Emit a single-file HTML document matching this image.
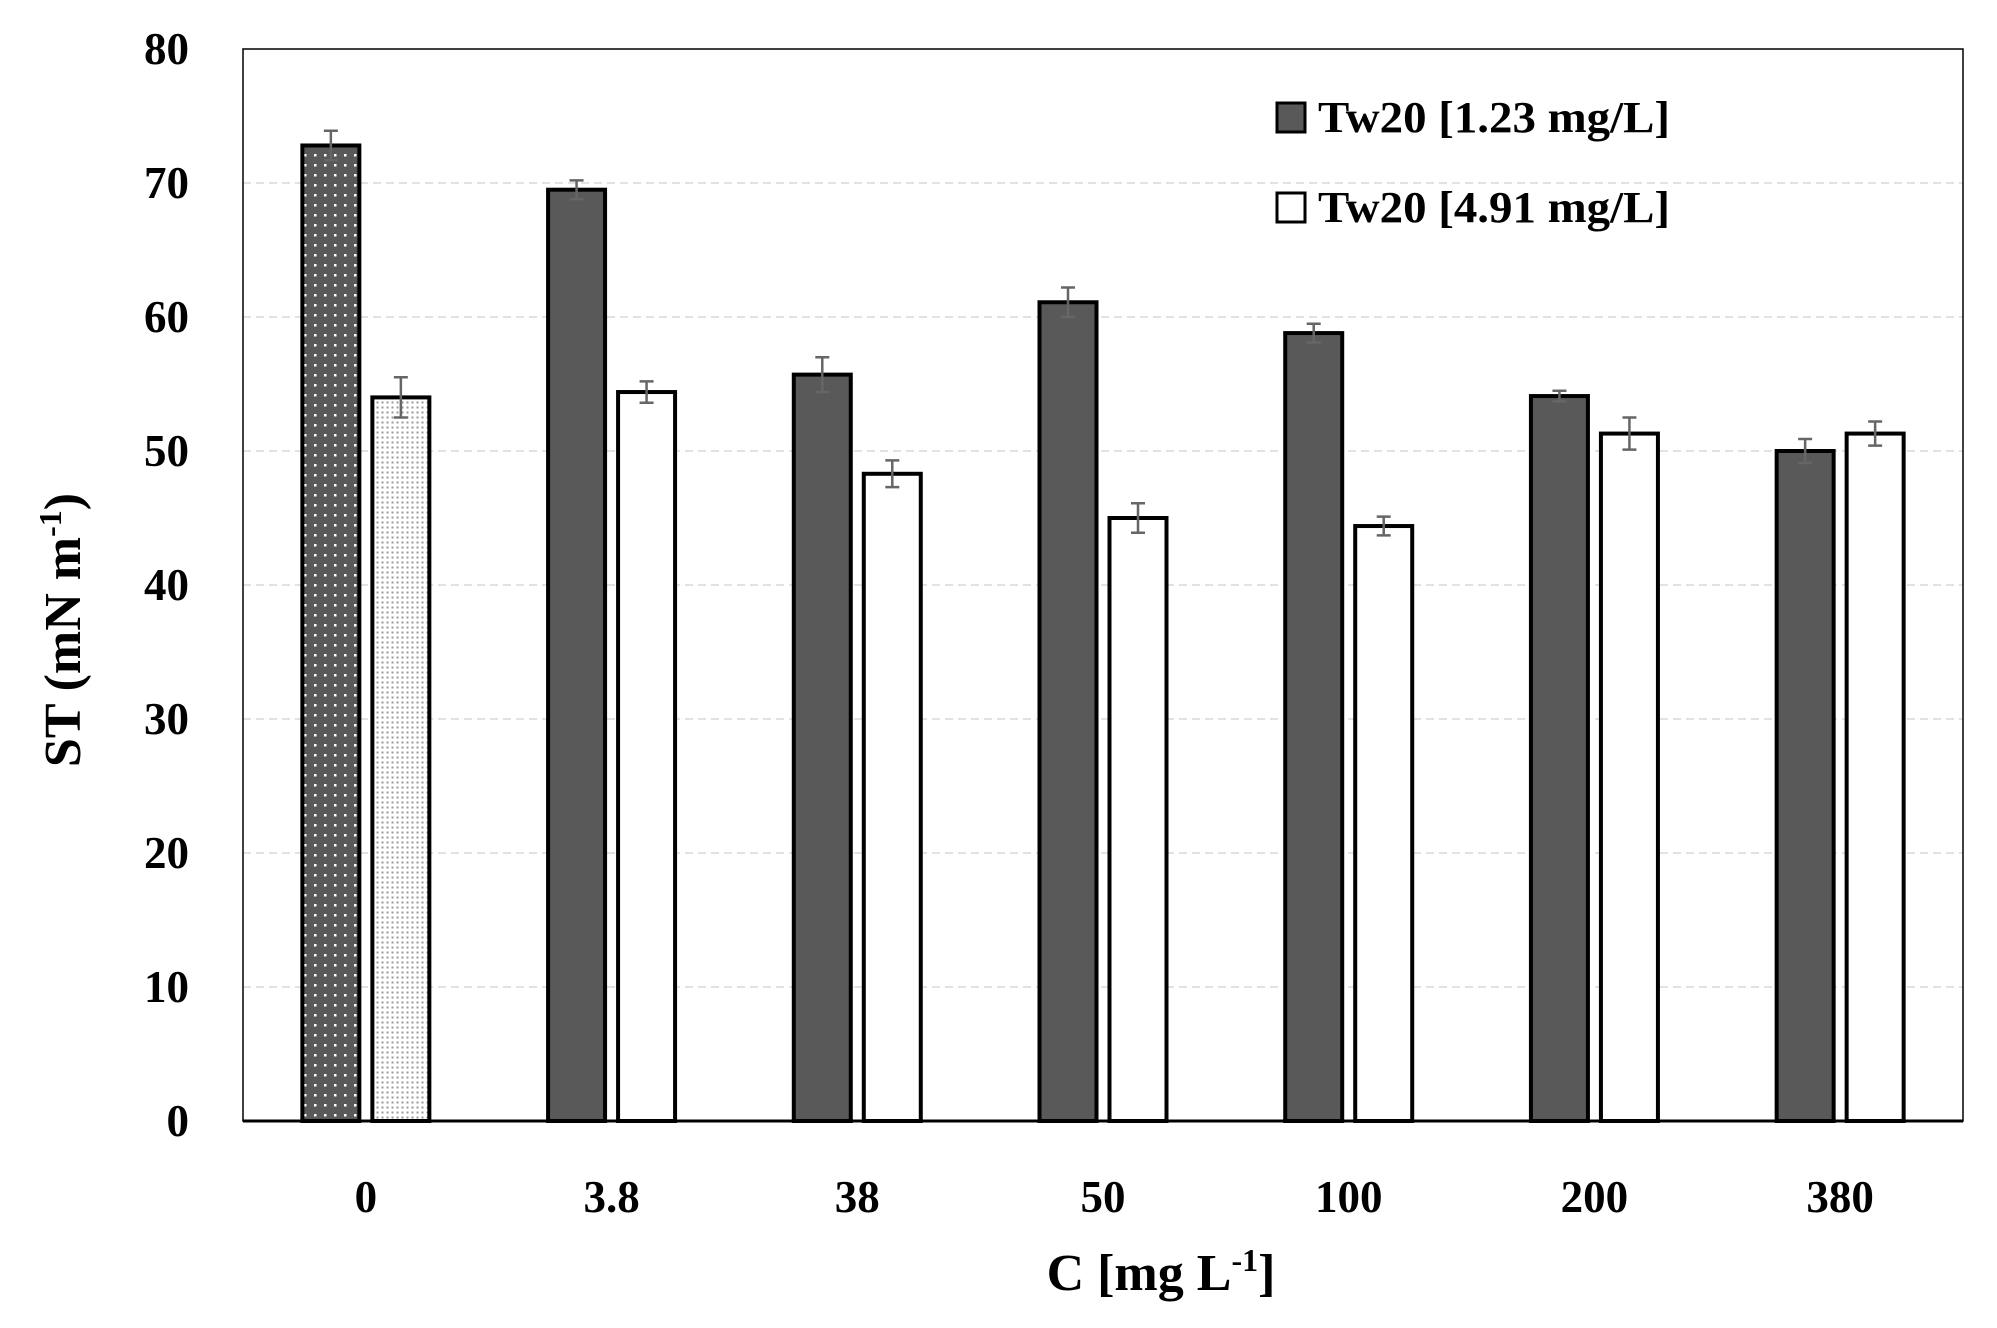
<!DOCTYPE html>
<html><head><meta charset="utf-8"><style>
html,body{margin:0;padding:0;background:#fff;}
svg{display:block;font-family:"Liberation Serif",serif;font-weight:bold;}
</style></head><body>
<svg id="chart" width="1997" height="1328" viewBox="0 0 1997 1328" xmlns="http://www.w3.org/2000/svg">
<defs>
<pattern id="dotsDark" width="10" height="10" patternUnits="userSpaceOnUse">
<rect width="10" height="10" fill="#595959"/><rect x="4" y="4" width="2.5" height="2.5" fill="#fff"/>
</pattern>
<pattern id="dotsLight" width="5" height="5" patternUnits="userSpaceOnUse">
<rect width="5" height="5" fill="#fff"/><rect x="1.5" y="1.5" width="2" height="2" fill="#999"/>
</pattern>
</defs>
<g id="grid"></g>
<g id="bars"></g>
<g id="axes"></g>
<text transform="translate(80,630) rotate(-90)" text-anchor="middle" font-size="52">ST (mN m<tspan font-size="32" dy="-19">-1</tspan><tspan dy="19">)</tspan></text>
<text x="1161" y="1290" text-anchor="middle" font-size="52">C [mg L<tspan font-size="32" dy="-19">-1</tspan><tspan dy="19">]</tspan></text>
<g>
<rect x="1277" y="103" width="28" height="29" fill="#595959" stroke="#000" stroke-width="3"/>
<text x="1318" y="132" font-size="44" textLength="352" lengthAdjust="spacingAndGlyphs">Tw20 [1.23 mg/L]</text>
<rect x="1277" y="193" width="28" height="29" fill="#fff" stroke="#000" stroke-width="3"/>
<text x="1318" y="222" font-size="44" textLength="352" lengthAdjust="spacingAndGlyphs">Tw20 [4.91 mg/L]</text>
</g>
</svg>
<script>
const categories = ["0","3.8","38","50","100","200","380"];
const seriesLow = [72.8,69.5,55.7,61.1,58.8,54.1,50.0];
const seriesHigh = [54.0,54.4,48.3,45.0,44.4,51.3,51.3];
const errLow = [1.1,0.7,1.3,1.1,0.7,0.4,0.9];
const errHigh = [1.5,0.8,1.0,1.1,0.7,1.2,0.9];
const yTicks = [0,10,20,30,40,50,60,70,80];

const NS="http://www.w3.org/2000/svg";
const L=243,R=1963,T=49,B=1121,YMAX=80;
const y=v=>B-(v/YMAX)*(B-T);
const gw=(R-L)/categories.length;
const xc=i=>L+gw*(i+0.5);
const bw=57, off=35;
function mk(tag,attrs,parent){const e=document.createElementNS(NS,tag);for(const k in attrs)e.setAttribute(k,attrs[k]);parent.appendChild(e);return e;}
const grid=document.getElementById('grid'),bars=document.getElementById('bars'),axes=document.getElementById('axes');
yTicks.forEach(t=>{
  if(t>0&&t<YMAX){const g=mk('line',{x1:L,x2:R,y1:y(t),y2:y(t),stroke:'#d9d9d9','stroke-width':1.5,'stroke-dasharray':'8 5'},grid);
  
  }
  const tx=mk('text',{x:189,y:y(t)+15,'text-anchor':'end','font-size':45},axes);
  tx.textContent=t;
  
  
});
categories.forEach((c,i)=>{
  [[seriesLow,errLow,-off,'#595959','url(#dotsDark)'],[seriesHigh,errHigh,off,'#fff','url(#dotsLight)']].forEach((s,j)=>{
    const v=s[0][i],e=s[1][i],cx=xc(i)+s[2];
    const r=mk('rect',{x:cx-bw/2,y:y(v),width:bw,height:B-y(v),fill:i===0?s[4]:s[3],stroke:'#000','stroke-width':4},bars);
    
    
    const eb=mk('path',{d:`M${cx},${y(v+e)}V${y(v-e)}M${cx-7},${y(v+e)}H${cx+7}M${cx-7},${y(v-e)}H${cx+7}`,stroke:'#666','stroke-width':2.5,fill:'none'},bars);
    
    
  });
  const tx=mk('text',{x:xc(i),y:1212,'text-anchor':'middle','font-size':45},axes);
  tx.textContent=c;
  
  
});
const fr=mk('rect',{x:L,y:T,width:R-L,height:B-T,fill:'none',stroke:'#000','stroke-width':1.5},axes);


const xa=mk('line',{x1:L,x2:R,y1:B,y2:B,stroke:'#000','stroke-width':3},axes);


</script>
</body></html>
